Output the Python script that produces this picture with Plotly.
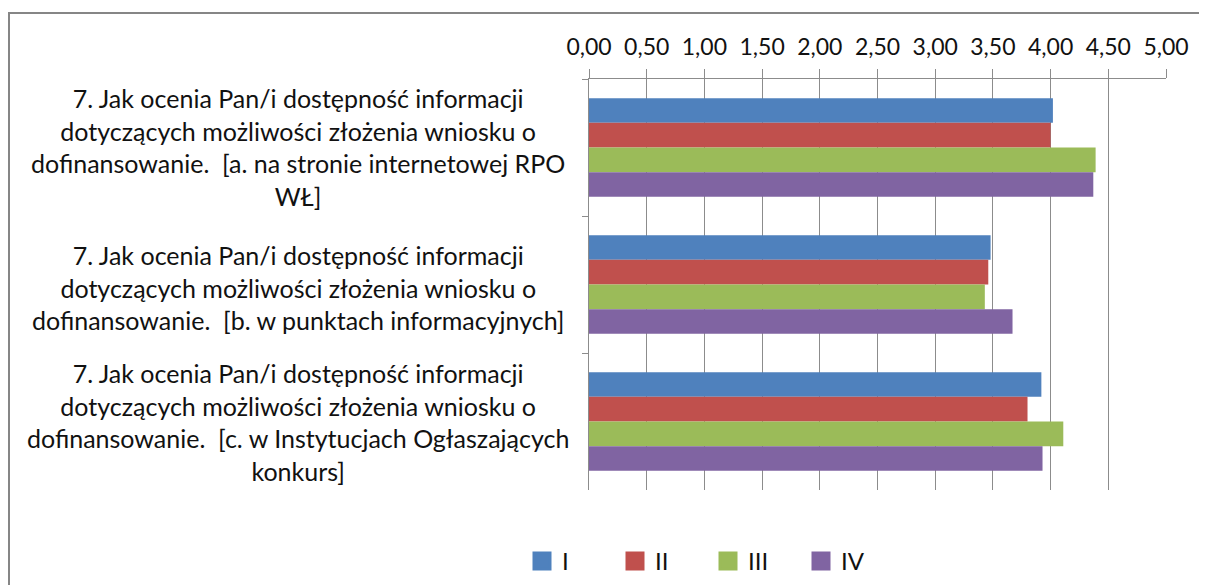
import plotly.graph_objects as go

categories = [
    "7. Jak ocenia Pan/i dostępność informacji<br>dotyczących możliwości złożenia wniosku o<br>dofinansowanie.  [a. na stronie internetowej RPO<br>WŁ]",
    "7. Jak ocenia Pan/i dostępność informacji<br>dotyczących możliwości złożenia wniosku o<br>dofinansowanie.  [b. w punktach informacyjnych]",
    "7. Jak ocenia Pan/i dostępność informacji<br>dotyczących możliwości złożenia wniosku o<br>dofinansowanie.  [c. w Instytucjach Ogłaszających<br>konkurs]",
]
cat_ids = ["a", "b", "c"]
series_names = ["I", "II", "III", "IV"]
vals_I = [4.02, 3.48, 3.92]
vals_II = [4.00, 3.46, 3.80]
vals_III = [4.39, 3.43, 4.11]
vals_IV = [4.37, 3.67, 3.93]
colors = ["#4F81BD", "#C0504D", "#9BBB59", "#8064A2"]

FONT = "Lato"

fig = go.Figure()
for name, vals, col in zip(series_names, [vals_I, vals_II, vals_III, vals_IV], colors):
    fig.add_trace(go.Bar(
        y=cat_ids, x=vals, name=name, orientation="h", legendgroup=name,
        marker=dict(color=col, line=dict(width=0)), showlegend=False,
    ))
# legend entries with larger square keys
for name, col in zip(series_names, colors):
    fig.add_trace(go.Scatter(
        x=[None], y=[None], mode="markers", name=name, legendgroup=name,
        marker=dict(symbol="square", size=16, color=col, line=dict(color=col, width=3)),
        showlegend=True,
    ))

W, H = 1199, 577
L, R, T, B = 581, 1158, 71, 482
pw, ph = R - L, B - T
label_yshift = [1, -3, 0]

for cid, txt, ys in zip(cat_ids, categories, label_yshift):
    fig.add_annotation(
        x=(290 - L) / pw, xref="paper", y=cid, yref="y", yshift=ys,
        text=txt, showarrow=False, align="center", xanchor="center", yanchor="middle",
        font=dict(family=FONT, size=25, color="#111111"),
    )

# chart border
fig.add_shape(type="rect", xref="paper", yref="paper",
              x0=(1 - L) / pw, x1=(1230 - L) / pw,
              y0=-(620 - B) / ph, y1=1 + (T - 5) / ph,
              line=dict(color="#868686", width=2), fillcolor="rgba(0,0,0,0)", layer="below")

fig.update_layout(
    width=W, height=H,
    margin=dict(l=L, r=W - R, t=T, b=H - B, pad=0, autoexpand=False),
    paper_bgcolor="white", plot_bgcolor="white",
    barmode="group", bargap=0.28, bargroupgap=0,
    separators=", ",
    showlegend=True,
    legend=dict(orientation="h", x=514 / W, xref="container", xanchor="left",
                y=(H - 553.5) / H, yref="container", yanchor="middle",
                font=dict(family=FONT, size=24, color="#111111"),
                itemwidth=30, traceorder="normal", itemsizing="trace",
                entrywidth=48, entrywidthmode="pixels"),
    xaxis=dict(side="top", range=[0, 5], dtick=0.5, tick0=0, tickformat=".2f",
               showgrid=True, gridcolor="#8C8C8C", gridwidth=1,
               showline=True, linecolor="#8C8C8C", linewidth=1,
               ticks="outside", ticklen=9, tickcolor="#8C8C8C",
               ticklabelstandoff=5, automargin=False,
               zeroline=False, fixedrange=True,
               tickfont=dict(family=FONT, size=23, color="#111111")),
    yaxis=dict(autorange="reversed", showticklabels=False,
               showline=True, linecolor="#8C8C8C", linewidth=1,
               ticks="outside", ticklen=6, tickcolor="#8C8C8C", tickson="boundaries",
               showgrid=False, zeroline=False, fixedrange=True, automargin=False),
)

fig.write_html("out.html")
